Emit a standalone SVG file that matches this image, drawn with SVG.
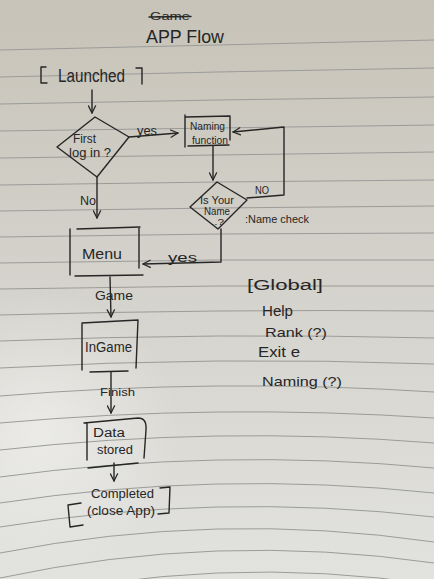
<svg xmlns="http://www.w3.org/2000/svg" width="434" height="579" viewBox="0 0 434 579">
<style>
.ink{fill:none;stroke:#262626;stroke-width:1.4;stroke-linecap:round;stroke-linejoin:round}
.rule{fill:none;stroke:#9b9b98;stroke-width:1}
.t{font-family:"Liberation Sans",Arial,sans-serif;fill:#262626}
</style>
<defs>
<linearGradient id="paper" x1="0" y1="0" x2="0" y2="1">
<stop offset="0" stop-color="#c7c3b8"/>
<stop offset="0.45" stop-color="#d3d1ca"/>
<stop offset="1" stop-color="#e2e2df"/>
</linearGradient>
<radialGradient id="glare" cx="40" cy="430" r="140" gradientUnits="userSpaceOnUse">
<stop offset="0" stop-color="#ffffff" stop-opacity="0.45"/>
<stop offset="1" stop-color="#ffffff" stop-opacity="0"/>
</radialGradient>
<marker id="ah" viewBox="0 0 10 10" refX="9" refY="5" markerWidth="9" markerHeight="9" orient="auto" markerUnits="userSpaceOnUse">
<path d="M1,1 L9,5 L1,9" fill="none" stroke="#262626" stroke-width="1.4" stroke-linecap="round" stroke-linejoin="round"/>
</marker>
</defs>
<rect width="434" height="579" fill="url(#paper)"/>
<rect width="434" height="579" fill="url(#glare)"/>
<g id="ruled-lines">
<path class="rule" d="M0,50 Q217,45 434,40" stroke="#6d6b66"/>
<path class="rule" d="M0,77 Q217,71.5 434,68"/>
<path class="rule" d="M0,104 Q217,99.5 434,97"/>
<path class="rule" d="M0,131 Q217,128 434,125"/>
<path class="rule" d="M0,158 Q217,155 434,152"/>
<path class="rule" d="M0,185 Q217,181.5 434,180"/>
<path class="rule" d="M0,211 Q217,207.5 434,206"/>
<path class="rule" d="M0,237 Q217,233 434,233"/>
<path class="rule" d="M0,263 Q217,258.5 434,260"/>
<path class="rule" d="M0,289 Q217,284.5 434,286"/>
<path class="rule" d="M0,315 Q217,309 434,311"/>
<path class="rule" d="M0,341 Q217,332.5 434,338"/>
<path class="rule" d="M0,368 Q217,356 434,364"/>
<path class="rule" d="M0,396 Q217,378 434,392"/>
<path class="rule" d="M0,423 Q217,403.5 434,418"/>
<path class="rule" d="M0,450 Q217,425.5 434,443"/>
<path class="rule" d="M0,477 Q217,447.5 434,468"/>
<path class="rule" d="M0,503 Q217,470 434,493"/>
<path class="rule" d="M0,527 Q217,492 434,517"/>
<path class="rule" d="M0,553 Q217,510.5 434,542"/>
<path class="rule" d="M0,578 Q217,531.5 434,563"/>
<path class="rule" d="M0,603 Q217,552 434,585"/>
</g>
<g id="title">
<text class="t" x="150" y="20" font-size="11" textLength="40" lengthAdjust="spacingAndGlyphs">Game</text>
<path class="ink" d="M149,17 L191,16.5" stroke-width="1.2"/>
<text class="t" x="146" y="43" font-size="19" textLength="78" lengthAdjust="spacingAndGlyphs">APP Flow</text>
</g>
<g id="connectors">
<path class="ink" d="M92,90 L92,113" marker-end="url(#ah)"/>
<path class="ink" d="M129,137 L178,133" marker-end="url(#ah)"/>
<text class="t" x="137" y="135" font-size="12" textLength="20" lengthAdjust="spacingAndGlyphs">yes</text>
<path class="ink" d="M97,177 L97,218" marker-end="url(#ah)"/>
<text class="t" x="80" y="205" font-size="12" textLength="16" lengthAdjust="spacingAndGlyphs">No</text>
<path class="ink" d="M213,146 L213,180" marker-end="url(#ah)"/>
<path class="ink" d="M247,198 L284,195 L284,127 L233,132" marker-end="url(#ah)"/>
<text class="t" x="255" y="194" font-size="11" textLength="14" lengthAdjust="spacingAndGlyphs">NO</text>
<path class="ink" d="M221,229 L221,262 L143,264" marker-end="url(#ah)"/>
<text class="t" x="168" y="262" font-size="13" textLength="29" lengthAdjust="spacingAndGlyphs">yes</text>
<path class="ink" d="M110,277 L111,317" marker-end="url(#ah)"/>
<text class="t" x="95" y="300" font-size="12" textLength="38" lengthAdjust="spacingAndGlyphs">Game</text>
<path class="ink" d="M111,372 L111,413" marker-end="url(#ah)"/>
<text class="t" x="100" y="396" font-size="11" textLength="35" lengthAdjust="spacingAndGlyphs">Finish</text>
<path class="ink" d="M114,463 L114,481" marker-end="url(#ah)"/>
</g>
<g id="launched">
<path class="ink" d="M46,67 L41,67 L41,83 L47,83"/>
<text class="t" x="58" y="82" font-size="18" textLength="67" lengthAdjust="spacingAndGlyphs">Launched</text>
<path class="ink" d="M136,68 L142,68 L142,84"/>
</g>
<g id="first-login">
<path class="ink" d="M95,117 L129,137 L97,177 L57,147 Z"/>
<text class="t" x="73" y="143" font-size="12" textLength="23" lengthAdjust="spacingAndGlyphs">First</text>
<text class="t" x="69" y="157" font-size="12" textLength="42" lengthAdjust="spacingAndGlyphs">log in ?</text>
</g>
<g id="naming-function">
<path class="ink" d="M185,115 L185,147 M186,117 L230,116 L230,140 M188,146 L229,145"/>
<text class="t" x="190" y="130" font-size="10" textLength="35" lengthAdjust="spacingAndGlyphs">Naming</text>
<text class="t" x="192" y="144" font-size="10" textLength="36" lengthAdjust="spacingAndGlyphs">function</text>
</g>
<g id="name-check">
<path class="ink" d="M217,182 L247,200 L218,229 L190,207 Z"/>
<text class="t" x="200" y="204" font-size="10" textLength="34" lengthAdjust="spacingAndGlyphs">Is Your</text>
<text class="t" x="204" y="215" font-size="10" textLength="26" lengthAdjust="spacingAndGlyphs">Name</text>
<text class="t" x="211" y="225" font-size="9" textLength="13" lengthAdjust="spacingAndGlyphs">..?</text>
<text class="t" x="245" y="223" font-size="11" textLength="64" lengthAdjust="spacingAndGlyphs">:Name check</text>
</g>
<g id="menu">
<path class="ink" d="M70,229 L70,275 M77,229 L140,227 M139,228 L139,268 M75,276 L143,275"/>
<text class="t" x="82" y="259" font-size="15" textLength="40" lengthAdjust="spacingAndGlyphs">Menu</text>
</g>
<g id="in-game">
<path class="ink" d="M82,324 L82,370 M82,323 L138,320 L136,368 M90,372 L128,371"/>
<text class="t" x="85" y="352" font-size="14" textLength="47" lengthAdjust="spacingAndGlyphs">InGame</text>
</g>
<g id="data-stored">
<path class="ink" d="M87,423 L87,460 M84,423 L138,418 Q147,418 146,430 L144,458 M88,468 L138,463"/>
<text class="t" x="93" y="437" font-size="12" textLength="32" lengthAdjust="spacingAndGlyphs">Data</text>
<text class="t" x="97" y="454" font-size="12" textLength="36" lengthAdjust="spacingAndGlyphs">stored</text>
</g>
<g id="completed">
<path class="ink" d="M160,488 L170,487 L169,513 L158,514"/>
<path class="ink" d="M81,503 L68,505 L70,527 L83,525"/>
<text class="t" x="91" y="498" font-size="12" textLength="63" lengthAdjust="spacingAndGlyphs">Completed</text>
<text class="t" x="87" y="515" font-size="12" textLength="68" lengthAdjust="spacingAndGlyphs">(close App)</text>
</g>
<g id="global">
<text class="t" x="247" y="290" font-size="14" textLength="76" lengthAdjust="spacingAndGlyphs">[Global]</text>
<text class="t" x="262" y="316" font-size="14" textLength="31" lengthAdjust="spacingAndGlyphs">Help</text>
<text class="t" x="265" y="337" font-size="13" textLength="62" lengthAdjust="spacingAndGlyphs">Rank (?)</text>
<text class="t" x="258" y="357" font-size="14" textLength="42" lengthAdjust="spacingAndGlyphs">Exit e</text>
<text class="t" x="262" y="386" font-size="13" textLength="80" lengthAdjust="spacingAndGlyphs">Naming (?)</text>
</g>
</svg>
